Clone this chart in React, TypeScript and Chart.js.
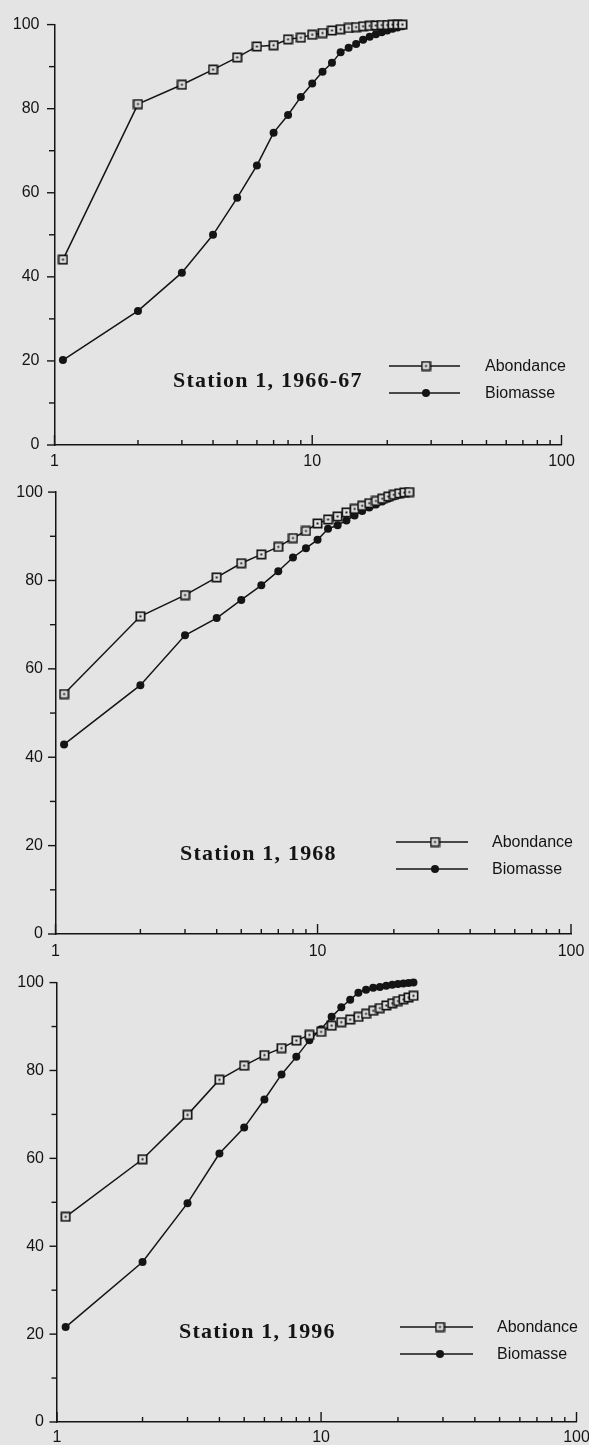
import React, { useEffect, useRef } from 'react';
import { Chart, registerables } from 'chart.js';

Chart.register(...registerables);

// ---------- data ----------
const RANKS = [1, 2, 3, 4, 5, 6, 7, 8, 9, 10, 11, 12, 13, 14, 15, 16, 17, 18, 19, 20, 21, 22, 23];

const AB_1966 = [44.1, 81.1, 85.7, 89.3, 92.2, 94.8, 95.1, 96.5, 96.9, 97.6, 98.0, 98.6, 98.9, 99.2, 99.4, 99.6, 99.7, 99.8, 99.9, 99.9, 100, 100, 100];
const BIO_1966 = [20.2, 31.9, 41.0, 50.0, 58.8, 66.5, 74.3, 78.5, 82.8, 86.0, 88.8, 90.9, 93.4, 94.5, 95.4, 96.4, 97.1, 97.7, 98.2, 98.6, 99.0, 99.3, 99.6];

const AB_1968 = [54.3, 71.9, 76.7, 80.7, 83.9, 85.9, 87.6, 89.6, 91.2, 92.9, 93.8, 94.5, 95.4, 96.2, 96.9, 97.5, 98.0, 98.5, 99.0, 99.4, 99.7, 99.9, 100];
const BIO_1968 = [42.9, 56.3, 67.6, 71.5, 75.6, 78.9, 82.1, 85.2, 87.3, 89.2, 91.7, 92.5, 93.6, 94.7, 95.7, 96.5, 97.2, 97.9, 98.5, 99.0, 99.4, 99.8, 100];

const AB_1996 = [46.7, 59.8, 69.9, 77.9, 81.1, 83.5, 85.1, 86.8, 88.1, 88.8, 90.2, 91.0, 91.6, 92.2, 92.9, 93.6, 94.2, 94.8, 95.3, 95.8, 96.2, 96.6, 97.0];
const BIO_1996 = [21.6, 36.4, 49.8, 61.1, 67.0, 73.4, 79.1, 83.1, 86.9, 89.4, 92.2, 94.4, 96.1, 97.7, 98.4, 98.8, 99.0, 99.3, 99.5, 99.7, 99.8, 99.9, 100];

const TITLES = ['Station 1, 1966-67', 'Station 1, 1968', 'Station 1, 1996'];
const SERIES_NAMES = ['Abondance', 'Biomasse'];

const X_TICKS = [1, 2, 3, 4, 5, 6, 7, 8, 9, 10, 20, 30, 40, 50, 60, 70, 80, 90, 100];
const X_MAJOR = [1, 10, 100];
const Y_TICKS = [0, 10, 20, 30, 40, 50, 60, 70, 80, 90, 100];
const Y_LABEL_STEP = 20;
const X_MIN = 0.925;
const X_MAX = 100;

// ---------- style ----------
const PAPER = '#e4e4e4';
const INK = '#141414';
const SANS = "'Liberation Sans', Arial, Helvetica, sans-serif";
const SERIF = "'Liberation Serif', 'Times New Roman', serif";
const CANVAS_W = 640;

type Panel = {
  title: string;
  ab: number[];
  bio: number[];
  top: number;
  height: number;
  area: { top: number; bottom: number; left: number; right: number };
  yPad: number;
  xPad: number;
  titleX: number;
  titleY: number;
  legend: { from: number; to: number; mark: number; textX: number; rowA: number; rowB: number };
};

const PANELS: Panel[] = [
  {
    title: TITLES[0], ab: AB_1966, bio: BIO_1966, top: 0, height: 470,
    area: { top: 20, bottom: 445, left: 54.5, right: 561.5 }, yPad: 15, xPad: 7,
    titleX: 173, titleY: 380,
    legend: { from: 389, to: 460, mark: 426, textX: 485, rowA: 366, rowB: 393 },
  },
  {
    title: TITLES[1], ab: AB_1968, bio: BIO_1968, top: 470, height: 490,
    area: { top: 481, bottom: 934, left: 55.5, right: 571 }, yPad: 12.5, xPad: 8,
    titleX: 180, titleY: 853,
    legend: { from: 396, to: 468, mark: 435, textX: 492, rowA: 842, rowB: 869 },
  },
  {
    title: TITLES[2], ab: AB_1996, bio: BIO_1996, top: 960, height: 485,
    area: { top: 970, bottom: 1422, left: 57, right: 576.5 }, yPad: 13, xPad: 6,
    titleX: 179, titleY: 1331,
    legend: { from: 400, to: 473, mark: 440, textX: 497, rowA: 1327, rowB: 1354 },
  },
];

function makeSquare(): HTMLCanvasElement {
  const c = document.createElement('canvas');
  c.width = 11;
  c.height = 11;
  const g = c.getContext('2d')!;
  g.fillStyle = PAPER;
  g.fillRect(1, 1, 9, 9);
  g.strokeStyle = INK;
  g.lineWidth = 1.7;
  g.strokeRect(1.35, 1.35, 8.3, 8.3);
  g.fillStyle = INK;
  g.fillRect(4.5, 4.5, 2, 2);
  return c;
}

function PanelChart({ p }: { p: Panel }) {
  const ref = useRef<HTMLCanvasElement>(null);
  useEffect(() => {
    const canvas = ref.current!;
    const square = makeSquare();
    const off = p.top;

    const decor = {
      id: 'panelDecor',
      afterDraw(chart: any) {
        const { ctx, chartArea, scales } = chart;
        const xs = scales.x;
        const ys = scales.y;
        ctx.save();
        ctx.strokeStyle = INK;
        ctx.lineWidth = 1.4;
        // y ticks (outward)
        Y_TICKS.forEach((v) => {
          const py = ys.getPixelForValue(v);
          const len = v % Y_LABEL_STEP === 0 ? 7.5 : 5.5;
          ctx.beginPath();
          ctx.moveTo(chartArea.left - len, py);
          ctx.lineTo(chartArea.left, py);
          ctx.stroke();
        });
        // x ticks (inward)
        X_TICKS.forEach((v) => {
          const px = xs.getPixelForValue(v === 1 ? X_MIN : v);
          const len = X_MAJOR.includes(v) ? 10 : 5;
          ctx.beginPath();
          ctx.moveTo(px, chartArea.bottom);
          ctx.lineTo(px, chartArea.bottom - len);
          ctx.stroke();
        });
        // legend
        const L = p.legend;
        const rows = [L.rowA - off, L.rowB - off];
        ctx.lineWidth = 1.5;
        rows.forEach((ry, i) => {
          ctx.beginPath();
          ctx.moveTo(L.from, ry);
          ctx.lineTo(L.to, ry);
          ctx.stroke();
          if (i === 0) {
            ctx.drawImage(square, L.mark - 5.5, ry - 5.5);
          } else {
            ctx.beginPath();
            ctx.fillStyle = INK;
            ctx.arc(L.mark, ry, 4, 0, Math.PI * 2);
            ctx.fill();
          }
          ctx.fillStyle = INK;
          ctx.font = `16px ${SANS}`;
          ctx.textAlign = 'left';
          ctx.textBaseline = 'middle';
          ctx.fillText(SERIES_NAMES[i], L.textX, ry + 1);
        });
        // title
        ctx.fillStyle = INK;
        ctx.font = `bold 22px ${SERIF}`;
        try {
          (ctx as any).letterSpacing = '1.2px';
        } catch (e) {}
        ctx.textAlign = 'left';
        ctx.textBaseline = 'middle';
        ctx.fillText(p.title, p.titleX, p.titleY - off + 1);
        ctx.restore();
      },
    };

    const chart = new Chart(canvas, {
      type: 'line',
      data: {
        datasets: [
          {
            label: SERIES_NAMES[0],
            data: RANKS.map((r, i) => ({ x: r, y: p.ab[i] })),
            borderColor: INK,
            borderWidth: 1.5,
            pointStyle: square as any,
            pointRadius: 5.5,
            pointHoverRadius: 5.5,
            backgroundColor: PAPER,
            tension: 0,
            clip: false as any,
          },
          {
            label: SERIES_NAMES[1],
            data: RANKS.map((r, i) => ({ x: r, y: p.bio[i] })),
            borderColor: INK,
            borderWidth: 1.5,
            pointStyle: 'circle',
            pointRadius: 4,
            pointHoverRadius: 4,
            pointBackgroundColor: INK,
            pointBorderColor: INK,
            pointBorderWidth: 0,
            backgroundColor: INK,
            tension: 0,
            clip: false as any,
          },
        ],
      },
      options: {
        animation: false,
        responsive: false,
        maintainAspectRatio: false,
        devicePixelRatio: 1,
        events: [],
        layout: {
          padding: { top: p.area.top - off, right: CANVAS_W - p.area.right, left: 0, bottom: 0 },
        },
        plugins: {
          legend: { display: false },
          tooltip: { enabled: false },
          title: { display: false },
        },
        scales: {
          x: {
            type: 'logarithmic',
            min: X_MIN,
            max: X_MAX,
            afterBuildTicks: (s: any) => {
              s.ticks = X_TICKS.map((v) => ({ value: v === 1 ? X_MIN : v }));
            },
            afterFit: (s: any) => {
              s.height = off + p.height - p.area.bottom;
            },
            grid: { display: false, drawTicks: false },
            border: { display: true, color: INK, width: 1.5 },
            ticks: {
              autoSkip: false,
              maxRotation: 0,
              minRotation: 0,
              padding: p.xPad,
              color: INK,
              font: { family: SANS, size: 16 },
              callback: (v: any) => {
                const n = Number(v);
                if (n === X_MIN) return '1';
                if (X_MAJOR.includes(n)) return String(n);
                return '';
              },
            },
          },
          y: {
            type: 'linear',
            min: 0,
            max: 100,
            afterFit: (s: any) => {
              s.width = p.area.left;
            },
            grid: { display: false, drawTicks: false },
            border: { display: true, color: INK, width: 1.5 },
            ticks: {
              stepSize: 10,
              padding: p.yPad,
              color: INK,
              font: { family: SANS, size: 16 },
              callback: (v: any) => (Number(v) % Y_LABEL_STEP === 0 ? String(v) : ''),
            },
          },
        },
      },
      plugins: [decor],
    } as any);
    return () => chart.destroy();
  }, [p]);

  return (
    <canvas
      ref={ref}
      width={CANVAS_W}
      height={p.height}
      style={{ position: 'absolute', left: 0, top: p.top, width: CANVAS_W, height: p.height }}
    />
  );
}

export default function App() {
  return (
    <div
      style={{
        position: 'absolute',
        left: 0,
        top: 0,
        width: 589,
        height: 1445,
        overflow: 'hidden',
        background: PAPER,
      }}
    >
      {PANELS.map((p, i) => (
        <PanelChart key={i} p={p} />
      ))}
    </div>
  );
}
